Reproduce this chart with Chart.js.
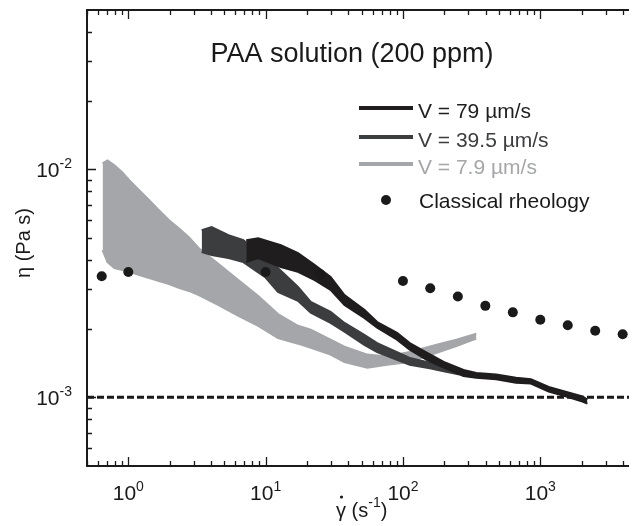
<!DOCTYPE html>
<html>
<head>
<meta charset="utf-8">
<script src="https://cdn.jsdelivr.net/npm/chart.js@4.4.1/dist/chart.umd.min.js"></script>
<style>
html, body { margin:0; padding:0; background:#fff; overflow:hidden; }
</style>
</head>
<body>
<canvas id="viscosityChart" width="634" height="526"></canvas>
<script>
// V = 79 um/s (band: upper and lower edge)
const rate79 = [7.23, 8.83, 12.9, 17.2, 22.8, 29.7, 37.5, 52.3, 64.9, 90.5, 112, 149, 198, 276, 342, 477, 666, 854, 1152, 1528, 2027, 2203];
const eta79Upper = [0.00489, 0.00499, 0.00465, 0.00429, 0.00380, 0.00337, 0.00281, 0.00242, 0.00214, 0.00192, 0.00173, 0.00157, 0.00143, 0.00132, 0.00128, 0.00126, 0.00122, 0.00120, 0.00111, 0.00106, 0.00101, 0.000977];
const eta79Lower = [0.00392, 0.00408, 0.00373, 0.00355, 0.00327, 0.00296, 0.00254, 0.00223, 0.00202, 0.00179, 0.00162, 0.00146, 0.00135, 0.00124, 0.00122, 0.00120, 0.00116, 0.00115, 0.00106, 0.00101, 0.000958, 0.000939];

// V = 39.5 um/s
const rate395 = [3.42, 4.04, 5.36, 6.88, 9.92, 12.3, 17.2, 21.3, 29.7, 37.5, 52.3, 64.9, 90.5, 112, 157, 198, 258];
const eta395Upper = [0.00541, 0.00558, 0.00514, 0.00489, 0.00408, 0.00369, 0.00305, 0.00262, 0.00237, 0.00212, 0.00188, 0.00173, 0.00158, 0.00149, 0.00142, 0.00136, 0.00132];
const eta395Lower = [0.00434, 0.00421, 0.00408, 0.00392, 0.00337, 0.00290, 0.00265, 0.00235, 0.00212, 0.00194, 0.00170, 0.00158, 0.00146, 0.00139, 0.00134, 0.00130, 0.00126];

// V = 7.9 um/s
const rate79b = [0.649, 0.705, 0.792, 0.905, 1.02, 1.20, 1.42, 1.67, 1.98, 2.33, 2.76, 3.26, 4.54, 6.33, 8.83, 12.3, 17.2, 21.3, 29.7, 37.5, 55.0, 76.7, 112, 176, 245, 342];
const eta79bUpper = [0.01062, 0.01095, 0.01041, 0.00970, 0.00895, 0.00810, 0.00732, 0.00662, 0.00598, 0.00552, 0.00504, 0.00451, 0.00384, 0.00327, 0.00278, 0.00232, 0.00206, 0.00198, 0.00179, 0.00167, 0.00154, 0.00151, 0.00158, 0.00170, 0.00179, 0.00190];
const eta79bLower = [0.00442, 0.00392, 0.00369, 0.00362, 0.00355, 0.00344, 0.00334, 0.00324, 0.00314, 0.00302, 0.00293, 0.00281, 0.00254, 0.00228, 0.00206, 0.00182, 0.00172, 0.00165, 0.00154, 0.00143, 0.00135, 0.00139, 0.00143, 0.00157, 0.00168, 0.00181];

// classical rheology
const classicalRate = [0.64, 1.0, 10, 25, 100, 158, 251, 398, 631, 1000, 1585, 2512, 3981];
const classicalEta = [0.00340, 0.00355, 0.00355, 0.00347, 0.00324, 0.00301, 0.00277, 0.00252, 0.00236, 0.00219, 0.00207, 0.00196, 0.00189];

// water (dashed)
const waterRate = [0.5, 4427];
const waterEta = [0.001, 0.001];

// axes
const xMin = 0.5, xMax = 4427;
const yMin = 0.0005, yMax = 0.05;
const xMajor = [1, 10, 100, 1000];
const xLabels = ['0', '1', '2', '3'];
const xMinor = [0.5, 0.6, 0.7, 0.8, 0.9, 2, 3, 4, 5, 6, 7, 8, 9, 20, 30, 40, 50, 60, 70, 80, 90, 200, 300, 400, 500, 600, 700, 800, 900, 2000, 3000, 4000];
const yMajor = [0.001, 0.01];
const yLabels = ['-3', '-2'];
const yMinor = [0.0006, 0.0007, 0.0008, 0.0009, 0.002, 0.003, 0.004, 0.005, 0.006, 0.007, 0.008, 0.009, 0.02, 0.03, 0.04];

const colBlack = '#1f1d1e';
const colDark = '#3c3d3f';
const colGray = '#a5a6a9';
const FONT = '"Liberation Sans", Arial, sans-serif';

const pts = (xs, ys) => xs.map((x, i) => ({ x: x, y: ys[i] }));

const band = (xs, up, lo, color) => [
    { data: pts(xs, up), borderColor: color, backgroundColor: color, borderWidth: 2, pointRadius: 0, fill: false },
    { data: pts(xs, lo), borderColor: color, backgroundColor: color, borderWidth: 2, pointRadius: 0, fill: '-1' }
];

// frame, inside ticks, labels, legend
const decor = {
    id: 'decor',
    afterDraw(chart) {
        const ctx = chart.ctx;
        const a = chart.chartArea;
        const sx = chart.scales.x, sy = chart.scales.y;
        ctx.save();
        ctx.strokeStyle = '#1a1a1a';
        ctx.fillStyle = '#1a1a1a';

        ctx.lineWidth = 2;
        ctx.beginPath();
        ctx.moveTo(a.right, a.top); ctx.lineTo(a.left, a.top);
        ctx.lineTo(a.left, a.bottom); ctx.lineTo(a.right, a.bottom);
        ctx.stroke();

        ctx.lineWidth = 1.3;
        ctx.beginPath();
        const xt = (v, len) => {
            const p = Math.round(sx.getPixelForValue(v)) + 0.5;
            ctx.moveTo(p, a.bottom); ctx.lineTo(p, a.bottom - len);
            ctx.moveTo(p, a.top); ctx.lineTo(p, a.top + len);
        };
        const yt = (v, len) => {
            const p = Math.round(sy.getPixelForValue(v)) + 0.5;
            ctx.moveTo(a.left, p); ctx.lineTo(a.left + len, p);
        };
        xMajor.forEach(v => xt(v, 9));
        xMinor.forEach(v => xt(v, 5));
        yMajor.forEach(v => yt(v, 9));
        yMinor.forEach(v => yt(v, 5));
        ctx.stroke();

        // tick labels 10^n
        const big = '21px ' + FONT, small = '14px ' + FONT;
        ctx.textBaseline = 'alphabetic';
        ctx.textAlign = 'left';
        xMajor.forEach((v, i) => {
            ctx.font = big; const w1 = ctx.measureText('10').width;
            ctx.font = small; const w2 = ctx.measureText(xLabels[i]).width;
            const p = sx.getPixelForValue(v);
            const s = p - (w1 + w2) / 2;
            ctx.font = big; ctx.fillText('10', s, 500);
            ctx.font = small; ctx.fillText(xLabels[i], s + w1, 491);
        });
        yMajor.forEach((v, i) => {
            ctx.font = big; const w1 = ctx.measureText('10').width;
            ctx.font = small; const w2 = ctx.measureText(yLabels[i]).width;
            const p = sy.getPixelForValue(v);
            const s = 72 - w1 - w2;
            ctx.font = big; ctx.fillText('10', s, p + 8);
            ctx.font = small; ctx.fillText(yLabels[i], s + w1, p - 1);
        });

        // axis titles
        ctx.font = '20px ' + FONT;
        let gx = 336;
        ctx.fillText('γ', gx, 517);
        const gw = ctx.measureText('γ').width;
        ctx.beginPath(); ctx.arc(gx + gw / 2 + 0.5, 497, 1.6, 0, Math.PI * 2); ctx.fill();
        ctx.fillText(' (s', gx + gw, 517);
        let ox = gx + gw + ctx.measureText(' (s').width;
        ctx.font = small; ctx.fillText('-1', ox, 507);
        ox += ctx.measureText('-1').width;
        ctx.font = '20px ' + FONT; ctx.fillText(')', ox, 517);

        ctx.save();
        ctx.translate(30, 243);
        ctx.rotate(-Math.PI / 2);
        ctx.textAlign = 'center';
        ctx.fillText('η (Pa s)', 0, 0);
        ctx.restore();

        // title
        ctx.font = '27px ' + FONT;
        ctx.textAlign = 'center';
        ctx.fillText('PAA solution (200 ppm)', 352, 62);

        // legend
        ctx.textAlign = 'left';
        ctx.font = '21px ' + FONT;
        const rows = [
            ['V = 79 µm/s', colBlack, 108, 118],
            ['V = 39.5 µm/s', colDark, 137, 147],
            ['V = 7.9 µm/s', colGray, 164, 174]
        ];
        rows.forEach(r => {
            ctx.strokeStyle = r[1]; ctx.lineWidth = 4;
            ctx.beginPath(); ctx.moveTo(359, r[2]); ctx.lineTo(413, r[2]); ctx.stroke();
            ctx.fillStyle = r[1];
            ctx.fillText(r[0], 418, r[3]);
        });
        ctx.fillStyle = '#1a1a1a';
        ctx.beginPath(); ctx.arc(386, 200, 5, 0, Math.PI * 2); ctx.fill();
        ctx.fillText('Classical rheology', 419, 208);
        ctx.restore();
    }
};

new Chart(document.getElementById('viscosityChart'), {
    type: 'line',
    data: {
        datasets: [
            { data: pts(classicalRate, classicalEta), showLine: false, pointRadius: 5, pointBackgroundColor: '#1a1a1a', pointBorderWidth: 0 },
            ...band(rate79, eta79Upper, eta79Lower, colBlack),
            ...band(rate395, eta395Upper, eta395Lower, colDark),
            ...band(rate79b, eta79bUpper, eta79bLower, colGray),
            { data: pts(waterRate, waterEta), borderColor: '#1a1a1a', borderWidth: 3, borderDash: [7, 3], pointRadius: 0, fill: false }
        ]
    },
    options: {
        responsive: false,
        animation: false,
        events: [],
        layout: { padding: { left: 87, top: 10, right: 0, bottom: 60 } },
        scales: {
            x: { type: 'logarithmic', min: xMin, max: xMax, display: false },
            y: { type: 'logarithmic', min: yMin, max: yMax, display: false }
        },
        plugins: {
            legend: { display: false },
            tooltip: { enabled: false }
        }
    },
    plugins: [decor]
});
</script>
</body>
</html>
